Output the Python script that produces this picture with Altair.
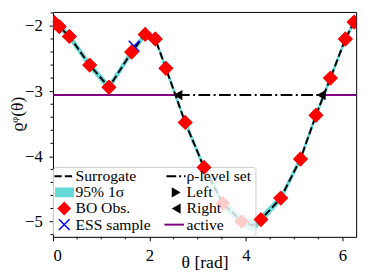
import altair as alt
import pandas as pd

# ---- data ----
theta_obs = [0.03, 0.13, 0.34, 0.76, 1.16, 1.63, 1.91, 2.12, 2.34, 2.74,
             3.13, 3.52, 3.91, 4.31, 4.72, 5.13, 5.45, 5.75, 6.06, 6.24]
rho_obs = [-1.95, -2.01, -2.16, -2.60, -2.94, -2.40, -2.13, -2.20, -2.65, -3.48,
           -4.17, -4.72, -5.00, -4.97, -4.64, -4.04, -3.37, -2.80, -2.20, -1.94]

theta_sur = [0.0, 0.03, 0.13, 0.34, 0.76, 1.16, 1.63, 1.91, 2.12, 2.34, 2.74,
             3.13, 3.52, 3.91, 4.14, 4.31, 4.72, 5.13, 5.45, 5.75, 6.06, 6.24, 6.2832]
mu_sur = [-1.93, -1.95, -2.01, -2.16, -2.60, -2.94, -2.40, -2.13, -2.20, -2.65, -3.48,
          -4.17, -4.72, -5.00, -5.06, -4.97, -4.64, -4.04, -3.37, -2.80, -2.20, -1.94, -1.88]
band_half = [0.05, 0.05, 0.05, 0.06, 0.06, 0.06, 0.06, 0.05, 0.05, 0.06, 0.06,
             0.06, 0.07, 0.08, 0.09, 0.07, 0.06, 0.06, 0.06, 0.06, 0.05, 0.05, 0.05]

ess_theta = [1.68]
ess_rho = [-2.31]

level_rho = -3.06
theta_left = 2.59
theta_right = 5.56
theta_max = 6.2832

x_major = [0, 2, 4, 6]
y_major = [-5, -4, -3, -2]
x_minor = [0.5, 1, 1.5, 2.5, 3, 3.5, 4.5, 5, 5.5]
y_minor = [-5.2, -4.8, -4.6, -4.4, -4.2, -3.8, -3.6, -3.4, -3.2,
           -2.8, -2.6, -2.4, -2.2, -1.8]

legend_labels = ["Surrogate", "95% 1σ", "BO Obs.", "ESS sample",
                 "ρ-level set", "Left", "Right", "active"]

# ---- chart ----
W, H = 310, 230
FONT = "Liberation Serif"

xs = alt.Scale(domain=[0, theta_max], nice=False, zero=False)
ys = alt.Scale(domain=[-5.235, -1.785], nice=False, zero=False)

xaxis = alt.Axis(values=x_major, format="d", title="θ [rad]", grid=False,
                 domain=False, tickSize=4, labelPadding=7,
                 titleY=26, titleBaseline="middle")
yaxis = alt.Axis(values=y_major, format="d", title="ϱᵠ(θ)", grid=False,
                 domain=False, tickSize=4, labelPadding=7,
                 titleX=-36, titleY=104, titleAngle=-90,
                 titleBaseline="middle", titleAlign="center")

X = alt.X("theta:Q", scale=xs, axis=xaxis)
Y = alt.Y("rho:Q", scale=ys, axis=yaxis)

sur = pd.DataFrame({"theta": theta_sur, "rho": mu_sur,
                    "lo": [m - b for m, b in zip(mu_sur, band_half)],
                    "hi": [m + b for m, b in zip(mu_sur, band_half)]})
obs = pd.DataFrame({"theta": theta_obs, "rho": rho_obs})
ess = pd.DataFrame({"theta": ess_theta, "rho": ess_rho})
active = pd.DataFrame({"theta": [0, theta_left, theta_right, theta_max],
                       "rho": [level_rho] * 4, "seg": [0, 0, 1, 1]})
level = pd.DataFrame({"theta": [theta_left, theta_right], "rho": [level_rho] * 2})
xmin_df = pd.DataFrame({"theta": x_minor})
ymin_df = pd.DataFrame({"rho": y_minor})
one = pd.DataFrame({"k": [0]})

XSHAPE = "M-1,-1L1,1M-1,1L1,-1"

band = alt.Chart(sur).mark_area(color="#00bfbf", opacity=0.6).encode(
    x=X, y=alt.Y("lo:Q", scale=ys, axis=yaxis), y2="hi:Q")
line = alt.Chart(sur).mark_line(color="black", strokeWidth=2,
                                strokeDash=[7.4, 3.2]).encode(x=X, y=Y)
act = alt.Chart(active).mark_line(color="purple", strokeWidth=2).encode(
    x=X, y=Y, detail="seg:N")
lev = alt.Chart(level).mark_line(color="black", strokeWidth=2,
                                 strokeDash=[12, 3.5, 2, 3.5]).encode(x=X, y=Y)
tri = alt.Chart(level).mark_point(shape="triangle-left", filled=True, color="black",
                                  size=110, opacity=1).encode(x=X, y=Y)
pts = alt.Chart(obs).mark_point(shape="diamond", filled=True, color="red",
                                size=230, opacity=1, clip=True).encode(x=X, y=Y)
essm = alt.Chart(ess).mark_point(shape=XSHAPE, filled=False, color="blue",
                                 strokeWidth=1.5, size=120, opacity=1).encode(x=X, y=Y)

leg_box = alt.Chart(one).mark_rect(fill="white", fillOpacity=0.8, stroke="#cccccc",
                                   strokeWidth=1, cornerRadius=3).encode(
    x=alt.value(0.5), x2=alt.value(207.5), y=alt.value(159), y2=alt.value(229.5))
pts_front = alt.Chart(obs).transform_filter(
    "datum.theta < 3.3 || datum.theta > 4.1").mark_point(
    shape="diamond", filled=True, color="red", size=230, opacity=1, clip=True
).encode(x=X, y=Y)

rows = [168, 184.5, 201, 217.5]
c1h, c1t = 11.5, 23
c2h, c2t = 126, 136.5

leg = []
leg.append(alt.Chart(one).mark_rule(color="black", strokeWidth=2, strokeDash=[7.4, 3.2]).encode(
    x=alt.value(1.5), x2=alt.value(21.5), y=alt.value(rows[0])))
leg.append(alt.Chart(one).mark_rect(color="#66d9d9").encode(
    x=alt.value(2), x2=alt.value(21.5), y=alt.value(rows[1] - 5), y2=alt.value(rows[1] + 5)))
leg.append(alt.Chart(one).mark_point(shape="diamond", filled=True, color="red", size=200,
                                     opacity=1).encode(x=alt.value(c1h), y=alt.value(rows[2])))
leg.append(alt.Chart(one).mark_point(shape=XSHAPE, filled=False, color="blue", strokeWidth=1.5,
                                     size=120, opacity=1).encode(x=alt.value(c1h), y=alt.value(rows[3])))
leg.append(alt.Chart(one).mark_rule(color="black", strokeWidth=2, strokeDash=[10, 3, 2, 3]).encode(
    x=alt.value(116), x2=alt.value(135.5), y=alt.value(rows[0])))
leg.append(alt.Chart(one).mark_point(shape="triangle-right", filled=True, color="black", size=110,
                                     opacity=1).encode(x=alt.value(c2h), y=alt.value(rows[1])))
leg.append(alt.Chart(one).mark_point(shape="triangle-left", filled=True, color="black", size=110,
                                     opacity=1).encode(x=alt.value(c2h), y=alt.value(rows[2])))
leg.append(alt.Chart(one).mark_rule(color="purple", strokeWidth=2).encode(
    x=alt.value(114), x2=alt.value(134), y=alt.value(rows[3])))
for i, lab in enumerate(legend_labels):
    tx = c1t if i < 4 else c2t
    leg.append(alt.Chart(one).mark_text(text=lab, align="left", baseline="middle", font=FONT,
                                        fontSize=16, color="black").encode(
        x=alt.value(tx), y=alt.value(rows[i % 4])))

xminor = alt.Chart(xmin_df).mark_rule(color="black", strokeWidth=1).encode(
    x=X, y=alt.value(H), y2=alt.value(H + 2.5))
yminor = alt.Chart(ymin_df).mark_rule(color="black", strokeWidth=1).encode(
    y=alt.Y("rho:Q", scale=ys, axis=yaxis), x=alt.value(0), x2=alt.value(-2.5))

chart = alt.layer(band, line, act, lev, tri, pts, essm, leg_box, pts_front, *leg,
                  xminor, yminor).properties(
    width=W, height=H,
    autosize=alt.AutoSizeParams(type="none"),
    padding={"left": 46, "top": 1, "right": 7, "bottom": 38},
).configure_view(stroke="black", strokeWidth=1).configure_axis(
    labelFont=FONT, labelFontSize=17, labelColor="black",
    titleFont=FONT, titleFontSize=18, titleFontWeight="normal", titleColor="black",
    tickColor="black", tickWidth=1,
).configure_text(font=FONT)

chart.save("out.html", embed_options={"renderer": "svg", "actions": False})
